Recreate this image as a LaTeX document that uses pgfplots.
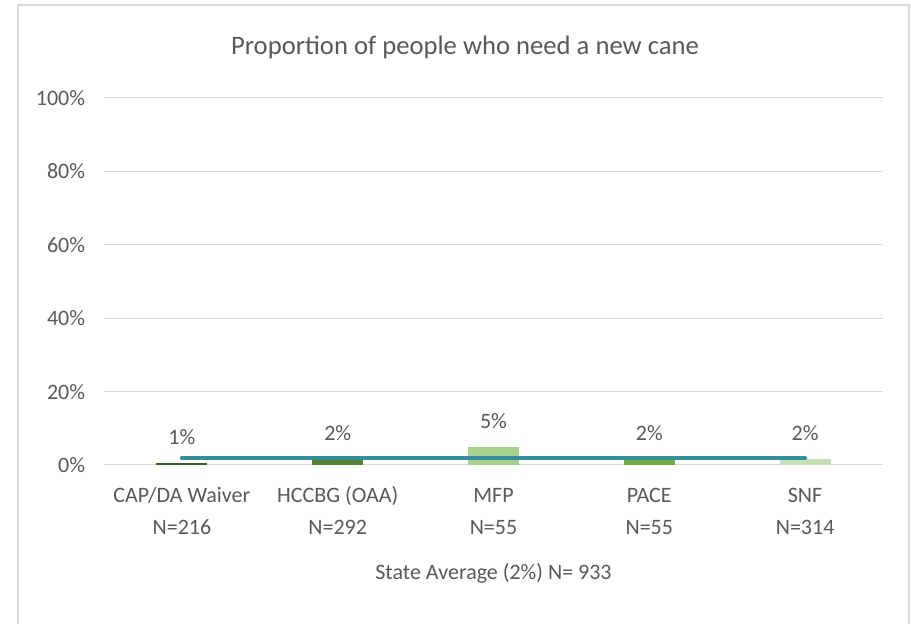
\documentclass[border=0pt]{standalone}
\usepackage{pgfplots}
\pgfplotsset{compat=1.18}
\usepackage{fontspec}
\setmainfont{Carlito}
\definecolor{txt}{HTML}{595959}
\definecolor{gridc}{HTML}{D9D9D9}
\definecolor{bord}{HTML}{D9D9D9}
\definecolor{cA}{HTML}{3B5E25}
\definecolor{cB}{HTML}{548235}
\definecolor{cC}{HTML}{A9D18E}
\definecolor{cD}{HTML}{70AD47}
\definecolor{cE}{HTML}{C5E0B4}
\definecolor{avg}{HTML}{358E9C}
\begin{document}
\begin{tikzpicture}[x=1pt,y=1pt]
\useasboundingbox (0,0) rectangle (683.25,468);
\draw[color=bord, line width=1.1pt] (13.5,-5) rectangle (681.75,464.25);
\node[text=txt, font=\fontsize{20}{24}\selectfont] at (348.75,432.75) {Proportion of people who need a new cane};
\begin{axis}[
  at={(78pt,119.25pt)}, anchor=south west,
  width=584.25pt, height=275.25pt, scale only axis,
  xmin=-0.5, xmax=4.5, ymin=0, ymax=100,
  ytick={0,20,40,60,80,100},
  yticklabel={\pgfmathprintnumber{\tick}\%},
  xtick={0,1,2,3,4},
  xticklabels={{CAP/DA Waiver\vphantom{(}\\N=216},{HCCBG (OAA)\\N=292},{MFP\vphantom{(}\\N=55},{PACE\vphantom{(}\\N=55},{SNF\vphantom{(}\\N=314}},
  xticklabel style={align=center, text=txt, font=\fontsize{16.5}{24}\selectfont, inner sep=0pt, yshift=-16pt},
  yticklabel style={text=txt, font=\fontsize{16.5}{20}\selectfont, inner sep=0pt, xshift=-14pt},
  xlabel={State Average (2\%) N= 933},
  xlabel style={text=txt, font=\fontsize{16.5}{20}\selectfont, yshift=-18pt},
  /pgf/number format/assume math mode=true,
  ymajorgrids, grid style={color=gridc, line width=0.75pt},
  axis line style={draw=none},
  major tick length=0pt,
  clip=false,
  nodes near coords,
  point meta=explicit symbolic,
  nodes near coords style={text=txt, font=\fontsize{16.5}{20}\selectfont, anchor=base, yshift=14pt, inner sep=0pt},
]
\addplot[ybar, bar width=38.25pt, bar shift=0pt, fill=cA, draw=none] coordinates {(0,0.6) [1\%]};
\addplot[ybar, bar width=38.25pt, bar shift=0pt, fill=cB, draw=none] coordinates {(1,1.7) [2\%]};
\addplot[ybar, bar width=38.25pt, bar shift=0pt, fill=cC, draw=none] coordinates {(2,4.9) [5\%]};
\addplot[ybar, bar width=38.25pt, bar shift=0pt, fill=cD, draw=none] coordinates {(3,1.7) [2\%]};
\addplot[ybar, bar width=38.25pt, bar shift=0pt, fill=cE, draw=none] coordinates {(4,1.7) [2\%]};
\addplot[sharp plot, color=avg, line width=3pt, line cap=round, mark=none, nodes near coords=] coordinates {(0,1.8) (4,1.8)};
\end{axis}
\end{tikzpicture}
\end{document}
